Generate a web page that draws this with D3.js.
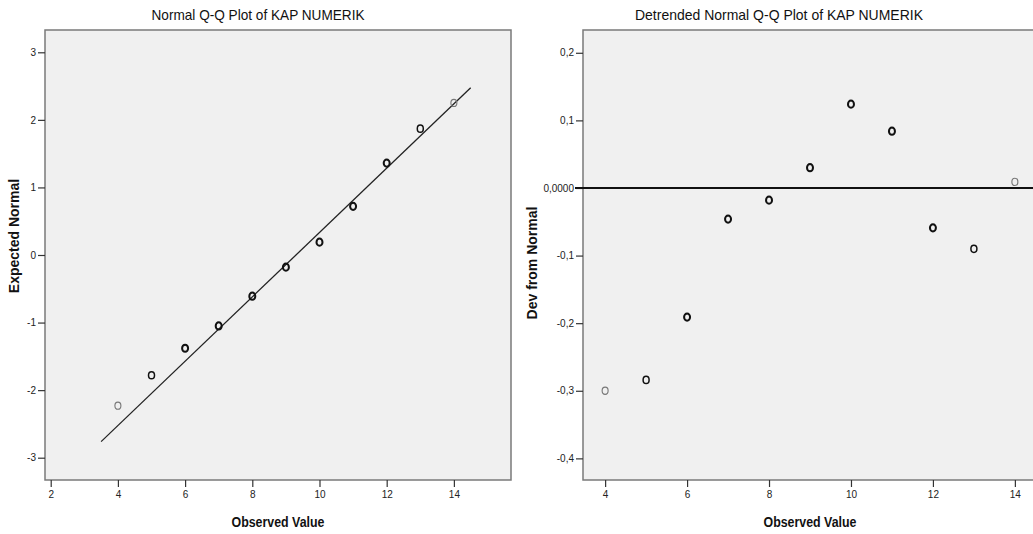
<!DOCTYPE html>
<html>
<head>
<meta charset="utf-8">
<script src="https://cdn.jsdelivr.net/npm/d3@7"></script>
<style>
  body { margin: 0; background: #fff; }
  .narrow { font-family: "Liberation Sans Narrow", "Arial Narrow", "Liberation Sans", Arial, sans-serif; }
  .wide { font-family: "Liberation Sans", Arial, sans-serif; }
</style>
</head>
<body>
<svg id="chart" width="1033" height="534"></svg>
<script>
// observed values (x) shared by both plots
var observed = [4, 5, 6, 7, 8, 9, 10, 11, 12, 13, 14]
// expected normal values
var expectedNormal = [-2.23, -1.78, -1.38, -1.05, -0.61, -0.18, 0.19, 0.72, 1.36, 1.87, 2.25]
// deviation from normal
var devFromNormal = [-0.300, -0.284, -0.191, -0.046, -0.018, 0.030, 0.124, 0.084, -0.059, -0.090, 0.009]
// marker darkness (1 = light, 2 = medium, 3 = bold)
var markerWeight = [1, 2, 3, 3, 3, 3, 3, 3, 3, 2, 1]

// reference line: z = (x - mean) / sd
var lineMean = 9.3
var lineSd = 2.1
var lineXRange = [3.5, 14.5]

var leftXTicks = [2, 4, 6, 8, 10, 12, 14]
var leftYTicks = [-3, -2, -1, 0, 1, 2, 3]
var leftYLabels = ["-3", "-2", "-1", "0", "1", "2", "3"]
var rightXTicks = [4, 6, 8, 10, 12, 14]
var rightYTicks = [-0.4, -0.3, -0.2, -0.1, 0, 0.1, 0.2]
var rightYLabels = ["-0,4", "-0,3", "-0,2", "-0,1", "0,0000", "0,1", "0,2"]

var svg = d3.select("#chart")

function markerStyle(sel) {
    sel.attr("rx", 3).attr("ry", 3.6)
        .attr("fill", "none")
        .attr("stroke", function(d, i) { return markerWeight[i] == 1 ? "#777" : "#111" })
        .attr("stroke-width", function(d, i) { return markerWeight[i] == 1 ? 1.1 : (markerWeight[i] == 2 ? 1.5 : 2) })
}

function drawFrame(g, x0, y0, w, h, title, titleX, titleW, xLabel, xLabelX, yLabel, yLabelX, yLabelY) {
    g.append("rect")
        .attr("x", x0).attr("y", y0).attr("width", w).attr("height", h)
        .attr("fill", "#f0f0f0")
        .attr("stroke", "#7a7a7a")
        .attr("stroke-width", 1.5)

    g.append("text")
        .attr("class", "narrow")
        .attr("x", titleX).attr("y", 20)
        .attr("text-anchor", "middle")
        .attr("font-size", 15)
        .attr("fill", "#111")
        .attr("textLength", titleW)
        .attr("lengthAdjust", "spacingAndGlyphs")
        .text(title)

    g.append("text")
        .attr("class", "narrow")
        .attr("x", xLabelX).attr("y", 527)
        .attr("text-anchor", "middle")
        .attr("font-size", 14)
        .attr("font-weight", "bold")
        .attr("fill", "#111")
        .attr("textLength", 93)
        .attr("lengthAdjust", "spacingAndGlyphs")
        .text(xLabel)

    g.append("text")
        .attr("class", "wide")
        .attr("transform", "translate(" + yLabelX + "," + yLabelY + ") rotate(-90)")
        .attr("text-anchor", "middle")
        .attr("font-size", 14)
        .attr("font-weight", "bold")
        .attr("fill", "#111")
        .text(yLabel)
}

function styleAxis(ax) {
    ax.select(".domain").remove()
    ax.selectAll(".tick line").attr("stroke", "#333").attr("stroke-width", 1.2)
    ax.selectAll(".tick text")
        .attr("class", "narrow")
        .attr("font-size", 10)
        .attr("fill", "#222")
}

// ---------- left: Normal Q-Q plot ----------
var left = svg.append("g")
var lx = d3.scaleLinear().domain([1.83, 15.7]).range([45, 511])
var ly = d3.scaleLinear().domain([-3.33, 3.33]).range([480, 30])

drawFrame(left, 45, 30, 466, 450, "Normal Q-Q Plot of KAP NUMERIK", 258, 213,
    "Observed Value", 278, "Expected Normal", 19, 236)

var lxAxis = left.append("g")
    .attr("transform", "translate(0,480)")
    .call(d3.axisBottom(lx).tickValues(leftXTicks).tickSize(7).tickPadding(4))
styleAxis(lxAxis)

var lyAxis = left.append("g")
    .attr("transform", "translate(45,0)")
    .call(d3.axisLeft(ly).tickValues(leftYTicks).tickSize(7).tickPadding(2)
        .tickFormat(function(d, i) { return leftYLabels[i] }))
styleAxis(lyAxis)

var refLine = d3.line()
    .x(function(d) { return lx(d) })
    .y(function(d) { return ly((d - lineMean) / lineSd) })

left.append("path")
    .datum(lineXRange)
    .attr("d", refLine)
    .attr("fill", "none")
    .attr("stroke", "#222")
    .attr("stroke-width", 1.3)

left.selectAll("ellipse.pt")
    .data(observed)
    .enter()
    .append("ellipse")
    .attr("class", "pt")
    .attr("cx", function(d) { return lx(d) })
    .attr("cy", function(d, i) { return ly(expectedNormal[i]) })
    .call(markerStyle)

// ---------- right: Detrended Normal Q-Q plot ----------
var right = svg.append("g")
var rx = d3.scaleLinear().domain([3.46, 14.54]).range([583, 1037])
var ry = d3.scaleLinear().domain([-0.432, 0.2337]).range([480, 30])

drawFrame(right, 583, 30, 454, 450, "Detrended Normal Q-Q Plot of KAP NUMERIK", 779, 288,
    "Observed Value", 810, "Dev from Normal", 537, 263)

var rxAxis = right.append("g")
    .attr("transform", "translate(0,480)")
    .call(d3.axisBottom(rx).tickValues(rightXTicks).tickSize(7).tickPadding(4))
styleAxis(rxAxis)

var ryAxis = right.append("g")
    .attr("transform", "translate(583,0)")
    .call(d3.axisLeft(ry).tickValues(rightYTicks).tickSize(7).tickPadding(2)
        .tickFormat(function(d, i) { return rightYLabels[i] }))
styleAxis(ryAxis)

right.append("line")
    .attr("x1", rx.range()[0] - 8).attr("x2", rx.range()[1])
    .attr("y1", ry(0)).attr("y2", ry(0))
    .attr("stroke", "#111")
    .attr("stroke-width", 1.8)

right.selectAll("ellipse.pt")
    .data(observed)
    .enter()
    .append("ellipse")
    .attr("class", "pt")
    .attr("cx", function(d) { return rx(d) })
    .attr("cy", function(d, i) { return ry(devFromNormal[i]) })
    .call(markerStyle)
</script>
</body>
</html>
